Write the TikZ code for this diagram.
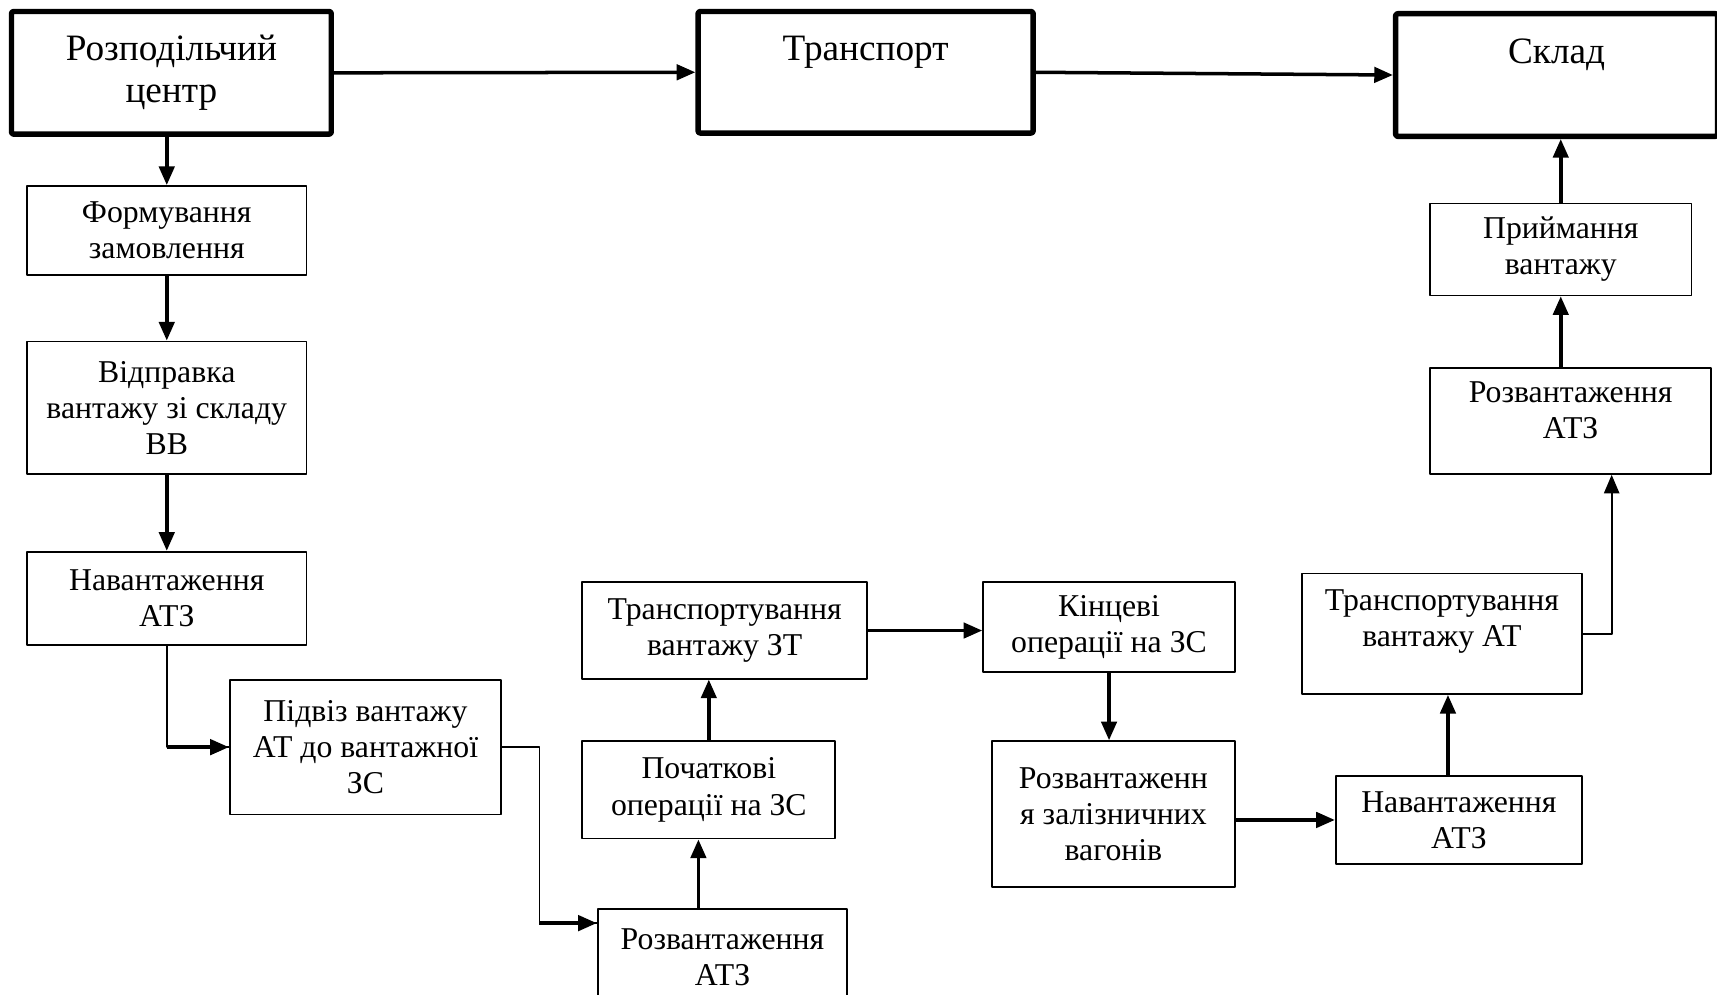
\documentclass[tikz,border=0pt]{standalone}
\usepackage{fontspec}
\setmainfont{Liberation Serif}
\usetikzlibrary{arrows.meta}
\begin{document}
\begin{tikzpicture}[x=1pt, y=-1pt, line join=round, >={Triangle[length=17pt,width=14pt]},
	blk/.style={draw, line width=1.6pt, align=center, inner sep=0pt, anchor=north west, font=\fontsize{29}{33}\selectfont},
	mainbox/.style={blk, line width=5pt, rounded corners=2pt, font=\fontsize{34}{38}\selectfont},
	flow/.style={->, line width=3.2pt},
	wire/.style={line width=1.6pt}]
	\useasboundingbox (0,0) rectangle (1568,908);
	% main boxes
	\node[mainbox, minimum width=292pt, minimum height=112pt] (rc) at (8,8) {Розподільчий\\центр};
	\node[mainbox, minimum width=306pt, minimum height=111pt, text depth=43pt] (tr) at (635,8) {Транспорт};
	\node[mainbox, minimum width=294pt, minimum height=112pt, text depth=44pt] (sk) at (1272,10) {Склад};
	% steps
	\foreach \n/\x/\y/\w/\h/\t in {form/24/169/255/81/{Формування\\замовлення}, vidp/24/311/255/121/{Відправка\\вантажу зі складу\\ВВ}, nav1/24/503/255/85/{Навантаження\\АТЗ}, pidv/209/620/248/123/{Підвіз вантажу\\АТ до вантажної\\ЗС}, rozv1/545/829/228/89/{Розвантаження\\АТЗ}, poch/531/676/231/89/{Початкові\\операції на ЗС}, tz/531/531/260/88/{Транспортування\\вантажу ЗТ}, kinc/897/531/230/82/{Кінцеві\\операції на ЗС}, rzal/905/676/222/133/{Розвантаженн\\я залізничних\\вагонів}, nav2/1219/708/225/80/{Навантаження\\АТЗ}, prim/1305/185/239/84/{Приймання\\вантажу}}
		{\node[blk, minimum width=\w pt, minimum height=\h pt] (\n) at (\x,\y) {\t};}
	\node[blk, minimum width=256pt, minimum height=110pt, text depth=28pt] (ta) at (1188,523) {Транспортування\\вантажу АТ};
	\node[blk, minimum width=257pt, minimum height=97pt, text depth=19pt] (rozva) at (1305,335) {Розвантаження\\АТЗ};
	% arrows
	\draw[flow] (rc.east) -- (tr.west);
	\draw[flow] (tr.east) -- (sk.west);
	\draw[flow] (form.north |- rc.south) -- (form.north);
	\draw[flow] (form.south) -- (vidp.north);
	\draw[flow] (vidp.south) -- (nav1.north);
	\draw[wire] (nav1.south) |- (pidv.west);
	\draw[flow] (nav1.south |- pidv.west) -- (pidv.west);
	\coordinate (r1in) at ([yshift=-14pt]rozv1.north west);
	\draw[wire] (pidv.east) -- ++(34,0) coordinate (bend) |- (r1in);
	\draw[flow] (bend |- r1in) -- (r1in);
	\coordinate (r1up) at ([xshift=-22pt]rozv1.north);
	\draw[flow] (r1up) -- (r1up |- poch.south);
	\draw[flow] (poch.north) -- (poch.north |- tz.south);
	\draw[flow] (tz.east) -- (tz.east -| kinc.west);
	\draw[flow] (kinc.south) -- (kinc.south |- rzal.north);
	\draw[flow] (rzal.east |- nav2.west) -- (nav2.west);
	\coordinate (n2up) at ([xshift=-10pt]nav2.north);
	\draw[flow] (n2up) -- (n2up |- ta.south);
	\draw[wire, ->] (ta.east) -| ([xshift=37.5pt]rozva.south);
	\draw[flow] (prim.south |- rozva.north) -- (prim.south);
	\draw[flow] (prim.north) -- (prim.north |- sk.south);
\end{tikzpicture}
\end{document}
